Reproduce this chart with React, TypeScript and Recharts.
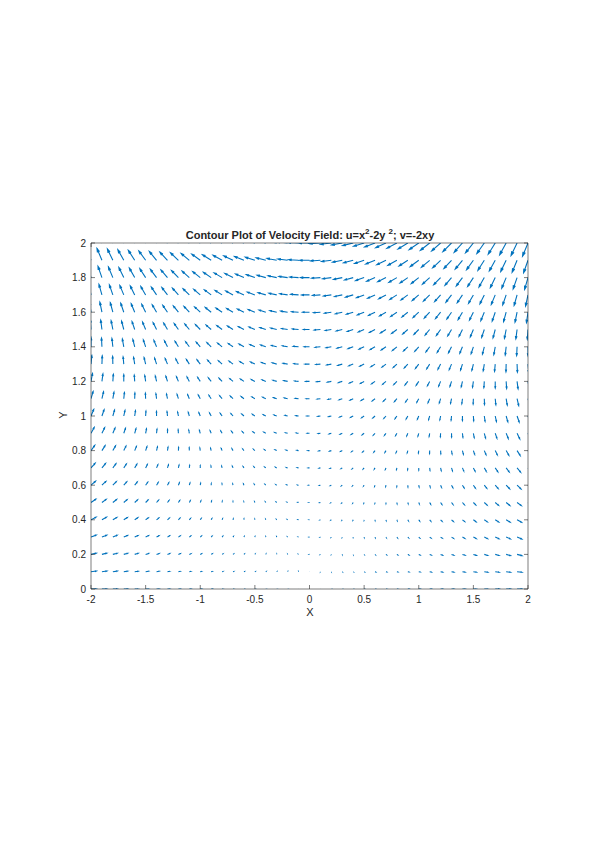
import { LineChart, Line, XAxis, YAxis } from "recharts"

// grid where the velocity is sampled
const xGrid = [
  -2, -1.9, -1.8, -1.7, -1.6, -1.5, -1.4, -1.3, -1.2, -1.1, -1, -0.9, -0.8, -0.7,
  -0.6, -0.5, -0.4, -0.3, -0.2, -0.1, 0, 0.1, 0.2, 0.3, 0.4, 0.5, 0.6, 0.7, 0.8,
  0.9, 1, 1.1, 1.2, 1.3, 1.4, 1.5, 1.6, 1.7, 1.8, 1.9, 2,
]
const yGrid = [
  0, 0.1, 0.2, 0.3, 0.4, 0.5, 0.6, 0.7, 0.8, 0.9, 1, 1.1, 1.2, 1.3, 1.4, 1.5,
  1.6, 1.7, 1.8, 1.9, 2,
]

const xTicks = [-2, -1.5, -1, -0.5, 0, 0.5, 1, 1.5, 2]
const yTicks = [0, 0.2, 0.4, 0.6, 0.8, 1, 1.2, 1.4, 1.6, 1.8, 2]

// the field named in the title: u = x^2 - 2y^2, v = -2xy
const velU = (x: number, y: number) => x * x - 2 * y * y
const velV = (x: number, y: number) => -2 * x * y

// quiver autoscale
const SCALE_X = 0.0125
const SCALE_Y = 0.0095
const ASPECT = 1.59 // y unit vs x unit on screen
const HEAD_LEN = 0.3
const HEAD_WID = 0.09

type Pt = { x: number; y: number | null }

function buildArrows(): Pt[] {
  const pts: Pt[] = []
  for (const y of yGrid) {
    for (const x of xGrid) {
      const dx = velU(x, y) * SCALE_X
      const dy = velV(x, y) * SCALE_Y
      const tx = x + dx
      const ty = y + dy
      const bx = tx - HEAD_LEN * dx
      const by = ty - HEAD_LEN * dy
      // perpendicular in screen-like space
      const px = -dy * ASPECT * HEAD_WID
      const py = (dx / ASPECT) * HEAD_WID
      pts.push({ x, y })
      pts.push({ x: tx, y: ty })
      pts.push({ x: bx + px, y: by + py })
      pts.push({ x: tx, y: ty })
      pts.push({ x: bx - px, y: by - py })
      pts.push({ x: tx, y: null })
    }
  }
  return pts
}

const arrowData = buildArrows()

const AXIS = "#262626"
const FONT = "'Liberation Sans', Arial, sans-serif"
const tickStyle = { fontSize: 10, fill: AXIS, fontFamily: FONT }
const noLabel = () => ""

export default function App() {
  return (
    <div style={{ position: "relative", width: 583, height: 832, fontFamily: FONT, color: AXIS }}>
      <div
        style={{
          position: "absolute",
          top: 221,
          left: 0,
          width: 604,
          textAlign: "center",
          fontSize: 11,
          fontWeight: "bold",
          lineHeight: "13px",
        }}
      >
        Contour Plot of Velocity Field: u=x
        <span style={{ fontSize: 8, verticalAlign: "super", lineHeight: 0 }}>2</span>
        -2y <span style={{ fontSize: 8, verticalAlign: "super", lineHeight: 0 }}>2</span>
        ; v=-2xy
      </div>

      <LineChart
        width={583}
        height={832}
        data={arrowData}
        margin={{ top: 230, right: 58, bottom: 221, left: 43 }}
      >
        <XAxis
          dataKey="x"
          type="number"
          domain={[-2, 2]}
          ticks={xTicks}
          allowDataOverflow
          height={30}
          tickSize={-4}
          tickMargin={11}
          tick={tickStyle}
          stroke={AXIS}
          strokeWidth={0.6}
        />
        <XAxis
          xAxisId="top"
          orientation="top"
          type="number"
          domain={[-2, 2]}
          ticks={xTicks}
          allowDataOverflow
          height={5}
          tickSize={-4}
          tickFormatter={noLabel}
          stroke={AXIS}
          strokeWidth={0.6}
        />
        <YAxis
          type="number"
          domain={[0, 2]}
          ticks={yTicks}
          allowDataOverflow
          width={40}
          tickSize={-4}
          tickMargin={9}
          tick={tickStyle}
          stroke={AXIS}
          strokeWidth={0.6}
        />
        <YAxis
          yAxisId="right"
          orientation="right"
          type="number"
          domain={[0, 2]}
          ticks={yTicks}
          allowDataOverflow
          width={5}
          tickSize={-4}
          tickFormatter={noLabel}
          stroke={AXIS}
          strokeWidth={0.6}
        />
        <Line
          dataKey="y"
          type="linear"
          stroke="#0072bd"
          strokeWidth={1.1}
          dot={false}
          activeDot={false}
          connectNulls={false}
          isAnimationActive={false}
        />
      </LineChart>

      <div style={{ position: "absolute", left: 292, top: 598, width: 20, textAlign: "center", fontSize: 11 }}>
        X
      </div>
      <div
        style={{
          position: "absolute",
          left: 45,
          top: 401,
          width: 20,
          textAlign: "center",
          fontSize: 11,
          transform: "rotate(-90deg)",
        }}
      >
        Y
      </div>
    </div>
  )
}
